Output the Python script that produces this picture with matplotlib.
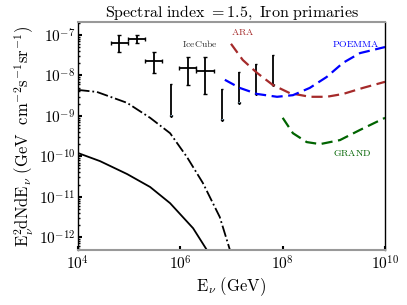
import numpy as np
import matplotlib
matplotlib.use("Agg")
import matplotlib.pyplot as plt

plt.rcParams['mathtext.fontset'] = 'cm'
plt.rcParams['font.family'] = 'serif'
plt.rcParams['font.serif'] = ['DejaVu Serif']

# ---- data (log10 values) ----
solid_logE = [4.0, 4.43, 4.96, 5.41, 5.80, 6.25, 6.52]
solid_logF = [-9.92, -10.12, -10.44, -10.76, -11.16, -11.78, -12.32]

dashdot_logE = [4.0, 4.37, 4.96, 5.41, 5.80, 6.13, 6.44, 6.77, 6.97]
dashdot_logF = [-8.36, -8.41, -8.68, -9.05, -9.43, -10.02, -10.66, -11.50, -12.32]

ic_logE = [4.81, 5.15, 5.48, 6.15, 6.48]
ic_logE_lo = [4.65, 4.98, 5.31, 5.98, 6.31]
ic_logE_hi = [4.98, 5.31, 5.64, 6.31, 6.65]
ic_logF = [-7.20, -7.10, -7.64, -7.82, -7.89]
ic_logF_lo = [-7.42, -7.20, -7.94, -8.24, -8.46]
ic_logF_hi = [-7.00, -7.00, -7.42, -7.54, -7.54]

ul_logE = [5.82, 6.81, 7.14, 7.48, 7.81]
ul_logF_top = [-8.21, -8.34, -7.92, -7.72, -7.50]
ul_logF_bot = [-8.98, -9.08, -8.66, -8.44, -8.21]

ara_logE = [6.99, 7.22, 7.50, 7.81, 8.14, 8.53, 8.86, 9.18, 9.57, 10.0]
ara_logF = [-7.22, -7.62, -7.94, -8.24, -8.44, -8.53, -8.53, -8.46, -8.31, -8.16]

poemma_logE = [6.87, 7.16, 7.50, 7.89, 8.20, 8.53, 8.86, 9.18, 9.51, 10.0]
poemma_logF = [-8.11, -8.31, -8.46, -8.53, -8.49, -8.31, -8.04, -7.69, -7.45, -7.30]

grand_logE = [8.00, 8.20, 8.47, 8.73, 9.12, 9.51, 10.0]
grand_logF = [-9.05, -9.43, -9.65, -9.70, -9.60, -9.35, -9.05]

xtick_vals = [1e4, 1e6, 1e8, 1e10]
xtick_labels = [r'$10^{4}$', r'$10^{6}$', r'$10^{8}$', r'$10^{10}$']
ytick_vals = [1e-12, 1e-11, 1e-10, 1e-9, 1e-8, 1e-7]
ytick_labels = [r'$10^{-12}$', r'$10^{-11}$', r'$10^{-10}$', r'$10^{-9}$', r'$10^{-8}$', r'$10^{-7}$']

p = lambda a: 10.0 ** np.array(a)

fig = plt.figure(figsize=(4.07, 3.05), dpi=100)
ax = fig.add_axes([0.1916, 0.180, 0.7544, 0.748])

ax.plot(p(solid_logE), p(solid_logF), color='black', lw=1.3, ls='-')
ax.plot(p(dashdot_logE), p(dashdot_logF), color='black', lw=1.3, ls='-.')

x = p(ic_logE); y = p(ic_logF)
xerr = [x - p(ic_logE_lo), p(ic_logE_hi) - x]
yerr = [y - p(ic_logF_lo), p(ic_logF_hi) - y]
ax.errorbar(x, y, xerr=xerr, yerr=yerr, fmt='none', ecolor='black',
            elinewidth=1.3, capsize=1.5, capthick=1.0)

ux = p(ul_logE); uy = p(ul_logF_top)
uyerr = [uy - p(ul_logF_bot), np.zeros(len(uy))]
ax.errorbar(ux, uy, yerr=uyerr, fmt='none', ecolor='black', elinewidth=1.3,
            capsize=1.0, capthick=1.0, uplims=True)

dash = (0, (5, 2.5))
ax.plot(p(ara_logE), p(ara_logF), color='#a52a2a', lw=1.6, ls=dash)
ax.plot(p(poemma_logE), p(poemma_logF), color='blue', lw=1.6, ls=dash)
ax.plot(p(grand_logE), p(grand_logF), color='darkgreen', lw=1.6, ls=dash)

ax.text(10**6.38, 10**-7.22, r'$\mathrm{IceCube}$', fontsize=7, color='#333333', ha='center', va='center')
ax.text(10**7.22, 10**-6.93, r'$\mathrm{ARA}$', fontsize=7, color='#a52a2a', ha='center', va='center')
ax.text(10**9.43, 10**-7.22, r'$\mathrm{POEMMA}$', fontsize=7, color='blue', ha='center', va='center')
ax.text(10**9.35, 10**-9.92, r'$\mathrm{GRAND}$', fontsize=7, color='darkgreen', ha='center', va='center')

ax.set_xscale('log'); ax.set_yscale('log')
ax.set_xlim(1e4, 1e10)
ax.set_ylim(10**-12.32, 10**-6.68)
ax.set_xticks(xtick_vals)
ax.set_xticklabels(xtick_labels, fontsize=11)
ax.set_yticks(ytick_vals)
ax.set_yticklabels(ytick_labels, fontsize=11)
ax.xaxis.set_minor_locator(matplotlib.ticker.NullLocator())
ax.tick_params(axis='both', which='major', direction='in', length=3, width=1.5, pad=2)
ax.tick_params(axis='y', which='minor', direction='in', length=1.5, width=1)
ax.tick_params(axis='x', which='major', pad=3)

for s in ['top', 'bottom']:
    ax.spines[s].set_color('#999999'); ax.spines[s].set_linewidth(1.5)
for s in ['left', 'right']:
    ax.spines[s].set_color('black'); ax.spines[s].set_linewidth(1.0)

ax.set_title(r'$\mathrm{Spectral\ index\ =1.5,\ Iron\ primaries}$', fontsize=11.5, pad=3)
ax.set_xlabel(r'$\mathrm{E}_{\nu}\ \mathrm{(GeV)}$', fontsize=12, labelpad=2)
ax.set_ylabel(r'$\mathrm{E}_{\nu}^{2}\mathrm{dNdE}_{\nu}\ \mathrm{(GeV\ \ cm^{-2}s^{-1}sr^{-1})}$', fontsize=12, labelpad=2)

fig.savefig('out.png', dpi=100)
